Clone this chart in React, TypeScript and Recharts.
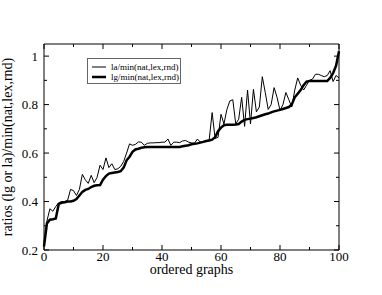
import * as React from "react";
import { Label, Legend, Line, LineChart, XAxis, YAxis } from "recharts";

const FONT = '"Liberation Serif", "Times New Roman", serif';

// x positions of the ordered graphs
const graphIndex = Array.from({ length: 101 }, (_, i) => i);

// la/min(nat,lex,rnd) — the thin, noisy line
const laRatio = [
  0.215, 0.32, 0.37, 0.36, 0.38, 0.395, 0.4, 0.4, 0.405, 0.45,
  0.445, 0.425, 0.45, 0.512, 0.49, 0.475, 0.508, 0.478, 0.5, 0.55,
  0.532, 0.58, 0.54, 0.556, 0.532, 0.535, 0.545, 0.565, 0.6, 0.638,
  0.632, 0.636, 0.646, 0.645, 0.632, 0.64, 0.642, 0.642, 0.643, 0.643,
  0.645, 0.645, 0.658, 0.632, 0.645, 0.645, 0.643, 0.65, 0.652, 0.645,
  0.642, 0.64, 0.658, 0.645, 0.648, 0.65, 0.655, 0.767, 0.66, 0.665,
  0.76, 0.72, 0.78, 0.815, 0.82, 0.72, 0.74, 0.83, 0.71, 0.86,
  0.72, 0.863, 0.77, 0.79, 0.915, 0.85, 0.78, 0.8, 0.87, 0.83,
  0.776, 0.8, 0.85, 0.82, 0.79, 0.86, 0.91, 0.88, 0.86, 0.88,
  0.9, 0.905, 0.925, 0.925, 0.92, 0.915, 0.92, 0.94, 0.895, 0.92,
  0.91,
];

// lg/min(nat,lex,rnd) — the thick, smoother line
const lgRatio = [
  0.215, 0.31, 0.325, 0.327, 0.33, 0.39, 0.395, 0.397, 0.4, 0.4,
  0.403, 0.41, 0.425, 0.44, 0.448, 0.452, 0.46, 0.465, 0.467, 0.468,
  0.49, 0.505, 0.515, 0.518, 0.52, 0.522, 0.525, 0.54, 0.57, 0.585,
  0.605, 0.615, 0.618, 0.622, 0.624, 0.625, 0.625, 0.625, 0.625, 0.625,
  0.625, 0.625, 0.625, 0.625, 0.625, 0.625, 0.625, 0.628, 0.63, 0.632,
  0.636, 0.638, 0.64, 0.643, 0.646, 0.65, 0.652, 0.655, 0.665, 0.69,
  0.705, 0.715, 0.717, 0.717, 0.717, 0.718, 0.72, 0.73, 0.737, 0.74,
  0.742, 0.745, 0.748, 0.752, 0.756, 0.76, 0.763, 0.768, 0.772, 0.775,
  0.778, 0.782, 0.786, 0.79, 0.8, 0.83, 0.845, 0.86, 0.88, 0.895,
  0.897, 0.897, 0.897, 0.897, 0.897, 0.897, 0.897, 0.91, 0.93, 0.96,
  1.02,
];

const xTicks = [0, 10, 20, 30, 40, 50, 60, 70, 80, 90, 100];
const yTicks = [0.2, 0.3, 0.4, 0.5, 0.6, 0.7, 0.8, 0.9, 1.0];

const data = graphIndex.map((x, i) => ({ x, la: laRatio[i], lg: lgRatio[i] }));

const MAJOR = 5;
const MINOR = 3;

function isMajorX(v: number) {
  return v % 20 === 0;
}
function isMajorY(v: number) {
  return Math.round(v * 10) % 2 === 0;
}

function BottomTick(props: any) {
  const { x, y, payload } = props;
  const major = isMajorX(payload.value);
  return (
    <g>
      <line x1={x} x2={x} y1={y} y2={y - (major ? MAJOR : MINOR)} stroke="#000" />
      {major && (
        <text x={x} y={y + 11} textAnchor="middle" fontSize={13} fontFamily={FONT} fill="#000">
          {payload.value}
        </text>
      )}
    </g>
  );
}

function TopTick(props: any) {
  const { x, y, payload } = props;
  const major = isMajorX(payload.value);
  return <line x1={x} x2={x} y1={y} y2={y + (major ? MAJOR : MINOR)} stroke="#000" />;
}

function LeftTick(props: any) {
  const { x, y, payload } = props;
  const major = isMajorY(payload.value);
  const v = Math.round(payload.value * 10) / 10;
  return (
    <g>
      <line x1={x} x2={x + (major ? MAJOR : MINOR)} y1={y} y2={y} stroke="#000" />
      {major && (
        <text x={x - 6} y={y + 4.5} textAnchor="end" fontSize={13} fontFamily={FONT} fill="#000">
          {v === 1 ? "1" : String(v)}
        </text>
      )}
    </g>
  );
}

function RightTick(props: any) {
  const { x, y, payload } = props;
  const major = isMajorY(payload.value);
  return <line x1={x} x2={x - (major ? MAJOR : MINOR)} y1={y} y2={y} stroke="#000" />;
}

function LegendBox() {
  const row = (label: string, width: number, top: number) => (
    <div style={{ position: "absolute", left: 4, top, height: 10, display: "flex", alignItems: "center" }}>
      <svg width={14} height={10} style={{ display: "block" }}>
        <line x1={0} x2={14} y1={5} y2={5} stroke="#000" strokeWidth={width} />
      </svg>
      <span style={{ marginLeft: 5, fontSize: 9, fontFamily: FONT, color: "#000", lineHeight: "10px" }}>
        {label}
      </span>
    </div>
  );
  return (
    <div
      style={{
        position: "relative",
        width: 94,
        height: 26,
        boxSizing: "border-box",
        border: "1px solid #666",
        background: "#fff",
      }}
    >
      {row("la/min(nat,lex,rnd)", 1, 2.5)}
      {row("lg/min(nat,lex,rnd)", 2.5, 12.5)}
    </div>
  );
}

export default function App() {
  return (
    <div style={{ position: "absolute", left: 0, top: 0, background: "#fff" }}>
      <LineChart width={382} height={295} data={data} margin={{ top: 0, right: 0, bottom: 11, left: 0 }}>
        <XAxis
          xAxisId="bottom"
          dataKey="x"
          type="number"
          domain={[0, 100]}
          ticks={xTicks}
          height={34}
          tickSize={0}
          tickMargin={0}
          tickLine={false}
          tick={<BottomTick />}
          stroke="#000"
          interval={0}
        >
          <Label
            content={(p: any) => {
              const vb = p.viewBox;
              return (
                <text
                  x={vb.x + vb.width / 2}
                  y={274}
                  textAnchor="middle"
                  fontSize={14}
                  fontFamily={FONT}
                  fill="#000"
                >
                  ordered graphs
                </text>
              );
            }}
          />
        </XAxis>
        <XAxis
          xAxisId="top"
          orientation="top"
          dataKey="x"
          type="number"
          domain={[0, 100]}
          ticks={xTicks}
          height={44}
          tickSize={0}
          tickMargin={0}
          tickLine={false}
          tick={<TopTick />}
          stroke="#000"
          interval={0}
        />
        <YAxis
          yAxisId="left"
          type="number"
          domain={[0.2, 1.05]}
          allowDataOverflow
          ticks={yTicks}
          width={44}
          tickSize={0}
          tickMargin={0}
          tickLine={false}
          tick={<LeftTick />}
          stroke="#000"
          interval={0}
        >
          <Label
            content={(p: any) => {
              const vb = p.viewBox;
              const cx = 12;
              const cy = vb.y + vb.height / 2;
              return (
                <text
                  x={cx}
                  y={cy}
                  transform={`rotate(-90, ${cx}, ${cy})`}
                  textAnchor="middle"
                  fontSize={14}
                  fontFamily={FONT}
                  fill="#000"
                >
                  ratios (lg or la)/min(nat,lex,rnd)
                </text>
              );
            }}
          />
        </YAxis>
        <YAxis
          yAxisId="right"
          orientation="right"
          type="number"
          domain={[0.2, 1.05]}
          allowDataOverflow
          ticks={yTicks}
          width={43}
          tickSize={0}
          tickMargin={0}
          tickLine={false}
          tick={<RightTick />}
          stroke="#000"
          interval={0}
        />
        <Legend
          layout="horizontal"
          verticalAlign="middle"
          align="center"
          wrapperStyle={{ left: 87, top: 58, width: 94, height: 26 }}
          content={() => <LegendBox />}
        />
        <Line
          xAxisId="top"
          yAxisId="right"
          dataKey="la"
          name="la/min(nat,lex,rnd)"
          type="linear"
          stroke="#000"
          strokeWidth={1}
          dot={false}
          isAnimationActive={false}
        />
        <Line
          xAxisId="bottom"
          yAxisId="left"
          dataKey="lg"
          name="lg/min(nat,lex,rnd)"
          type="linear"
          stroke="#000"
          strokeWidth={2.5}
          dot={false}
          isAnimationActive={false}
        />
      </LineChart>
    </div>
  );
}
